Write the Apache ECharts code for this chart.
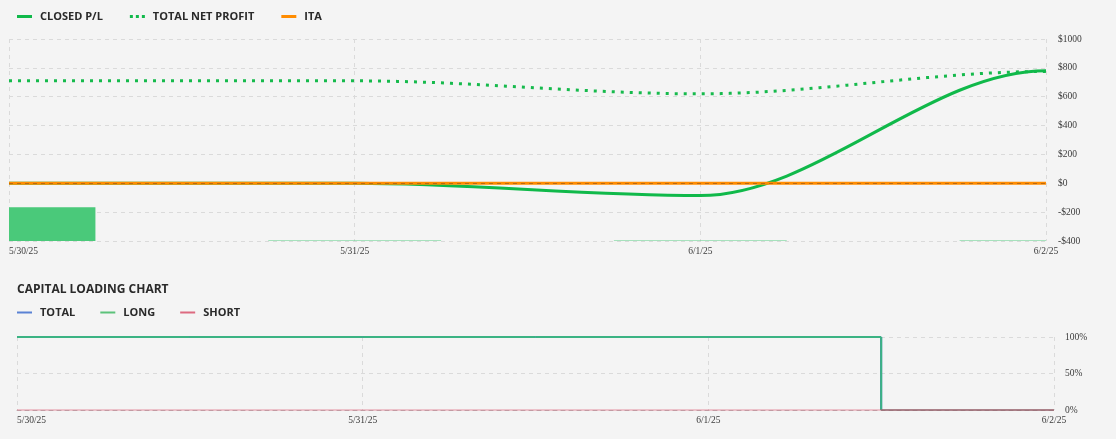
<!DOCTYPE html>
<html><head><meta charset="utf-8">
<script src="https://cdn.jsdelivr.net/npm/echarts@6/dist/echarts.min.js"></script>
<style>html,body{margin:0;padding:0;background:#f4f4f4}#c{width:1116px;height:439px}</style>
</head><body><div id="c"></div>
<script>
const categories = ['5/30/25', '5/31/25', '6/1/25', '6/2/25'];
const closedPL = [0, 0, -85, 780];
const totalNetProfit = [710, 710, 620, 775];
const ita = [0, 0, 0, 0];
const dayBars = [1, 0, 0, 0];
const capTotal = [100, 100, 100, 0];
const capLong = [100, 100, 100, 0];
const capShort = [0, 0, 0, 0];

const labelFont = {fontFamily: 'Liberation Serif', fontSize: 9.5, color: '#3a3a3a'};
const legendFont = {fontFamily: 'Open Sans', fontSize: 11, fontWeight: 'bold', color: '#2a2a2a', padding: [0, 0, 0, 3]};
const split = {show: true, lineStyle: {color: '#dadada', type: [4, 4], width: 1}};

// monotone cubic curve drawn through the axis scales
function curveSeries(name, values, color, dash) {
  return {
    name: name, type: 'custom', xAxisIndex: 0, yAxisIndex: 0, clip: true, silent: true,
    data: [[0, values[0]]], itemStyle: {color: color},
    renderItem: function (params, api) {
      const pts = values.map((v, i) => api.coord([i, v]));
      const n = values.length;
      const m = [];
      for (let k = 0; k < n - 1; k++) m.push(values[k + 1] - values[k]);
      const d = [0];
      for (let k = 1; k < n - 1; k++) {
        d.push(m[k - 1] * m[k] <= 0 ? 0 : 2 / (1 / m[k - 1] + 1 / m[k]));
      }
      d.push(0);
      const yPerVal = api.coord([0, 1])[1] - api.coord([0, 0])[1];
      let p = 'M' + pts[0][0] + ',' + pts[0][1];
      for (let k = 0; k < n - 1; k++) {
        const dx = (pts[k + 1][0] - pts[k][0]) / 3;
        const c1x = pts[k][0] + dx, c1y = pts[k][1] + d[k] / 3 * yPerVal;
        const c2x = pts[k + 1][0] - dx, c2y = pts[k + 1][1] - d[k + 1] / 3 * yPerVal;
        p += ' C' + c1x + ',' + c1y + ' ' + c2x + ',' + c2y + ' ' + pts[k + 1][0] + ',' + pts[k + 1][1];
      }
      return {type: 'path', shape: {pathData: p},
        style: {stroke: color, lineWidth: 3, fill: 'none', lineDash: dash || null}};
    }
  };
}

// step (middle) line; segments resting at zero are drawn faint grey
function stepSeries(name, values, color) {
  return {
    name: name, type: 'custom', xAxisIndex: 1, yAxisIndex: 2, silent: true,
    data: [[0, values[0]]], itemStyle: {color: color},
    renderItem: function (params, api) {
      const pts = values.map((v, i) => api.coord([i, v]));
      const children = [];
      const seg = (a, b, v) => children.push({type: 'line',
        shape: {x1: a[0], y1: a[1], x2: b[0], y2: b[1]},
        style: {stroke: v > 0 ? color : 'rgba(110,110,110,0.45)', lineWidth: 2}});
      for (let k = 0; k < pts.length - 1; k++) {
        const xm = (pts[k][0] + pts[k + 1][0]) / 2;
        seg(pts[k], [xm, pts[k][1]], values[k]);
        seg([xm, pts[k][1]], [xm, pts[k + 1][1]], 1);
        seg([xm, pts[k + 1][1]], pts[k + 1], values[k + 1]);
      }
      return {type: 'group', children: children};
    }
  };
}

const chart = echarts.init(document.getElementById('c'), null, {renderer: 'canvas'});
chart.setOption({
  backgroundColor: '#f4f4f4',
  animation: false,
  title: {text: 'CAPITAL LOADING CHART', left: 17, top: 284, padding: 0,
    textStyle: {fontFamily: 'Open Sans', fontSize: 12, fontWeight: 'bold', color: '#2a2a2a'}},
  legend: [
    {left: 17, top: 11, padding: 0, itemWidth: 15, itemHeight: 3, itemGap: 27, textStyle: legendFont,
      data: [
        {name: 'CLOSED P/L', icon: 'rect', itemStyle: {color: '#10b94a', borderWidth: 0}},
        {name: 'TOTAL NET PROFIT', icon: 'path://M0,0h3v3h-3z M6,0h3v3h-3z M12,0h3v3h-3z', itemStyle: {color: '#10b94a', borderWidth: 0}},
        {name: 'ITA', icon: 'rect', itemStyle: {color: '#ff8c00', borderWidth: 0}}
      ]},
    {left: 17, top: 307, padding: 0, itemWidth: 15, itemHeight: 2, itemGap: 25, textStyle: legendFont,
      data: [
        {name: 'TOTAL', icon: 'rect', itemStyle: {color: '#5a82d4', borderWidth: 0}},
        {name: 'LONG', icon: 'rect', itemStyle: {color: '#5cc27a', borderWidth: 0}},
        {name: 'SHORT', icon: 'rect', itemStyle: {color: '#dd6a80', borderWidth: 0}}
      ]}
  ],
  grid: [
    {left: 9, right: 70, top: 39, bottom: 198, containLabel: false, outerBoundsMode: 'none'},
    {left: 17, right: 62, top: 337, bottom: 29, containLabel: false, outerBoundsMode: 'none'}
  ],
  xAxis: [
    {type: 'category', gridIndex: 0, data: categories, boundaryGap: false,
      axisLine: {show: false}, axisTick: {show: false},
      axisLabel: Object.assign({margin: 5, alignMinLabel: 'left', interval: 0}, labelFont),
      splitLine: split},
    {type: 'category', gridIndex: 1, data: categories, boundaryGap: false,
      axisLine: {show: true, lineStyle: {color: '#bbb', type: [4, 4]}}, axisTick: {show: false},
      axisLabel: Object.assign({margin: 5, alignMinLabel: 'left', interval: 0}, labelFont),
      splitLine: split}
  ],
  yAxis: [
    {type: 'value', gridIndex: 0, position: 'right', min: -400, max: 1000, interval: 200,
      axisLine: {show: false}, axisTick: {show: false},
      axisLabel: Object.assign({margin: 12, formatter: v => (v < 0 ? '-$' : '$') + Math.abs(v)}, labelFont),
      splitLine: split},
    {type: 'value', gridIndex: 0, min: 0, max: 6, show: false, splitLine: {show: false}},
    {type: 'value', gridIndex: 1, position: 'right', min: 0, max: 100, interval: 50,
      axisLine: {show: false}, axisTick: {show: false},
      axisLabel: Object.assign({margin: 11, formatter: v => v + '%'}, labelFont),
      splitLine: split}
  ],
  series: [
    {name: 'DAY', type: 'custom', xAxisIndex: 0, yAxisIndex: 1, silent: true,
      data: dayBars.map((v, i) => [i, v]),
      renderItem: function (params, api) {
        const i = api.value(0), v = api.value(1);
        const top = api.coord([i, v]), base = api.coord([i, 0]);
        const w = api.size([1, 0])[0] * 0.5;
        const h = Math.max(1, base[1] - top[1]);
        const cs = params.coordSys;
        const rect = echarts.graphic.clipRectByRect(
          {x: top[0] - w / 2, y: base[1] - h, width: w, height: h},
          {x: cs.x, y: cs.y, width: cs.width, height: cs.height});
        return rect && {type: 'rect', shape: rect,
          style: {fill: '#4ac97a', opacity: v > 0 ? 1 : 0.45}};
      }},
    curveSeries('TOTAL NET PROFIT', totalNetProfit, '#16ba4c', [3, 6]),
    curveSeries('CLOSED P/L', closedPL, '#10b94a', null),
    {name: 'ITA', type: 'line', xAxisIndex: 0, yAxisIndex: 0, data: ita,
      showSymbol: false, symbol: 'none', lineStyle: {color: '#ff8c00', width: 3},
      itemStyle: {color: '#ff8c00'},
      markLine: {silent: true, symbol: 'none', label: {show: false},
        lineStyle: {color: 'rgba(160,90,20,0.7)', type: [4, 4], width: 1}, data: [{yAxis: 0}]}},
    {name: 'SHORT', type: 'line', xAxisIndex: 1, yAxisIndex: 2, data: capShort,
      showSymbol: false, symbol: 'none', lineStyle: {color: '#d9506a', width: 2, opacity: 0.3},
      itemStyle: {color: '#d9506a'}},
    stepSeries('TOTAL', capTotal, '#3a66c4'),
    stepSeries('LONG', capLong, '#3bb383')
  ]
});
</script></body></html>
